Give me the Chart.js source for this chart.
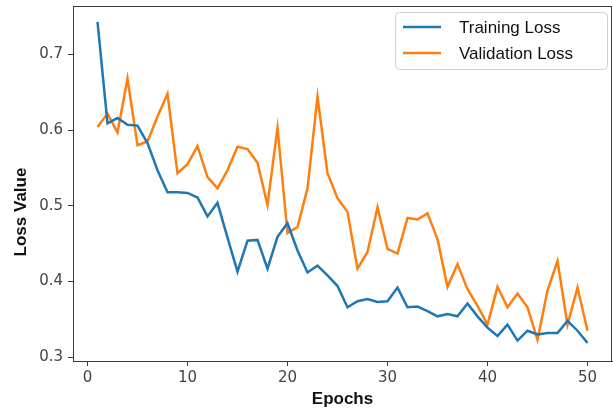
<!DOCTYPE html>
<html>
<head>
<meta charset="utf-8">
<script src="https://cdn.jsdelivr.net/npm/chart.js@4"></script>
<style>
  html, body { margin: 0; padding: 0; background: #fff; }
  #wrap { width: 613px; height: 412px; }
</style>
</head>
<body>
<div id="wrap"><canvas id="lossChart" width="613" height="412"></canvas></div>
<script>
// DATA
const epochs = [1, 2, 3, 4, 5, 6, 7, 8, 9, 10,
    11, 12, 13, 14, 15, 16, 17, 18, 19, 20,
    21, 22, 23, 24, 25, 26, 27, 28, 29, 30,
    31, 32, 33, 34, 35, 36, 37, 38, 39, 40,
    41, 42, 43, 44, 45, 46, 47, 48, 49, 50];

const trainingLoss = [0.743, 0.609, 0.616, 0.607, 0.606, 0.583, 0.547, 0.518, 0.518, 0.517,
    0.511, 0.486, 0.504, 0.458, 0.413, 0.454, 0.455, 0.417, 0.459, 0.477,
    0.441, 0.412, 0.421, 0.408, 0.394, 0.366, 0.374, 0.377, 0.373, 0.374,
    0.392, 0.366, 0.367, 0.361, 0.354, 0.357, 0.354, 0.371, 0.354, 0.339,
    0.328, 0.343, 0.322, 0.335, 0.330, 0.332, 0.332, 0.348, 0.335, 0.319];

const validationLoss = [0.604, 0.622, 0.597, 0.668, 0.580, 0.585, 0.618, 0.648, 0.543, 0.555,
    0.579, 0.538, 0.523, 0.547, 0.578, 0.575, 0.557, 0.501, 0.603, 0.464,
    0.472, 0.523, 0.644, 0.543, 0.510, 0.492, 0.417, 0.439, 0.498, 0.443,
    0.437, 0.484, 0.482, 0.490, 0.456, 0.393, 0.423, 0.390, 0.368, 0.343,
    0.393, 0.366, 0.384, 0.366, 0.323, 0.388, 0.427, 0.343, 0.392, 0.335];

const xTicks = [0, 10, 20, 30, 40, 50];
const yTicks = [0.3, 0.4, 0.5, 0.6, 0.7];

const seriesLabels = ["Training Loss", "Validation Loss"];
const xTitle = "Epochs";
const yTitle = "Loss Value";

// STYLE
const BLUE = "#1f77b4";
const ORANGE = "#ff7f0e";
const AXIS = "#3a3a3a";
const TICK_TEXT = "#444";

function points(values) {
    return epochs.map((e, i) => ({ x: e, y: values[i] }));
}

// frame (top/right spines) + y title + legend box
const extras = {
    id: "extras",
    afterDraw(chart) {
        const ctx = chart.ctx;
        const a = chart.chartArea;
        ctx.save();

        // spines
        ctx.strokeStyle = AXIS;
        ctx.lineWidth = 1;
        ctx.strokeRect(a.left + 0.5, a.top + 0.5, a.right - a.left - 1, a.bottom - a.top);

        // y title
        ctx.fillStyle = "#111";
        ctx.font = "bold 17px 'Liberation Sans', Arial, sans-serif";
        ctx.textAlign = "center";
        ctx.textBaseline = "middle";
        ctx.translate(21, 212);
        ctx.rotate(-Math.PI / 2);
        ctx.fillText(yTitle, 0, 0);
        ctx.setTransform(1, 0, 0, 1, 0, 0);

        // legend
        const bx = 395, by = 12, bw = 212, bh = 57, r = 4;
        ctx.fillStyle = "rgba(255,255,255,0.85)";
        ctx.strokeStyle = "#d0d0d0";
        ctx.beginPath();
        ctx.roundRect(bx + 0.5, by + 0.5, bw, bh, r);
        ctx.fill();
        ctx.stroke();

        ctx.font = "17px 'Liberation Sans', Arial, sans-serif";
        ctx.textAlign = "left";
        ctx.textBaseline = "middle";
        chart.data.datasets.forEach((ds, i) => {
            const y = by + 15 + i * 26;
            ctx.strokeStyle = ds.borderColor;
            ctx.lineWidth = 2.5;
            ctx.beginPath();
            ctx.moveTo(bx + 8, y);
            ctx.lineTo(bx + 46, y);
            ctx.stroke();
            ctx.fillStyle = "#111";
            ctx.fillText(ds.label, bx + 64, y + 1);
        });
        ctx.restore();
    }
};

new Chart(document.getElementById("lossChart"), {
    type: "line",
    data: {
        datasets: [
            {
                label: seriesLabels[0],
                data: points(trainingLoss),
                borderColor: BLUE,
                backgroundColor: BLUE,
                borderWidth: 2.5,
                pointRadius: 0,
                tension: 0
            },
            {
                label: seriesLabels[1],
                data: points(validationLoss),
                borderColor: ORANGE,
                backgroundColor: ORANGE,
                borderWidth: 2.5,
                pointRadius: 0,
                tension: 0
            }
        ]
    },
    options: {
        responsive: false,
        animation: false,
        devicePixelRatio: 1,
        layout: { padding: { top: 6, right: 1, left: 0, bottom: 0 } },
        plugins: {
            legend: { display: false },
            tooltip: { enabled: false }
        },
        scales: {
            x: {
                type: "linear",
                min: -1.45,
                max: 52.45,
                afterBuildTicks: s => { s.ticks = xTicks.map(v => ({ value: v })); },
                afterFit: s => { s.height = 51; s.paddingLeft = 0; s.paddingRight = 0; },
                grid: { drawOnChartArea: false, tickLength: 5, color: AXIS },
                border: { color: AXIS },
                ticks: {
                    color: TICK_TEXT,
                    padding: 3,
                    maxRotation: 0,
                    font: { family: "'DejaVu Sans', sans-serif", size: 15 }
                },
                title: {
                    display: true,
                    text: xTitle,
                    color: "#111",
                    padding: { top: 0, bottom: 2 },
                    font: { family: "'Liberation Sans', Arial, sans-serif", size: 17, weight: "bold" }
                }
            },
            y: {
                min: 0.295,
                max: 0.764,
                afterBuildTicks: s => { s.ticks = yTicks.map(v => ({ value: v })); },
                afterFit: s => { s.width = 73; s.paddingTop = 0; s.paddingBottom = 0; },
                grid: { drawOnChartArea: false, tickLength: 5, color: AXIS },
                border: { color: AXIS },
                ticks: {
                    color: TICK_TEXT,
                    padding: 5,
                    font: { family: "'DejaVu Sans', sans-serif", size: 15 },
                    callback: v => v.toFixed(1)
                }
            }
        }
    },
    plugins: [extras]
});
</script>
</body>
</html>
